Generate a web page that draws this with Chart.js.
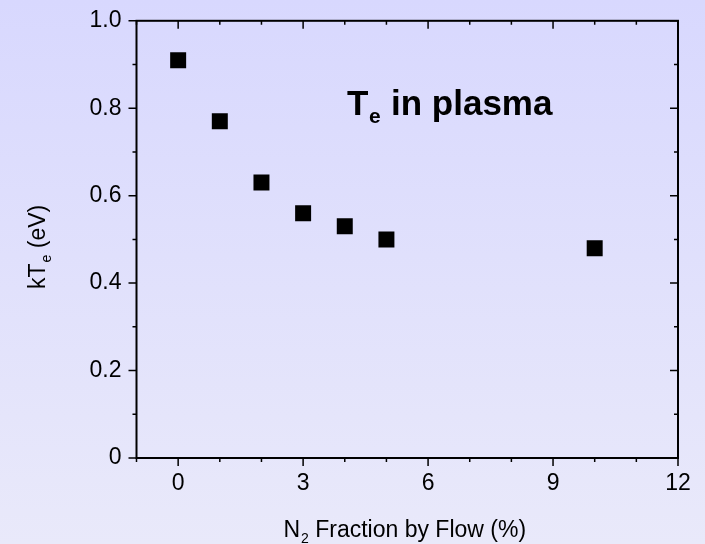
<!DOCTYPE html>
<html>
<head>
  <meta charset="UTF-8">
  <title>Te in plasma</title>
  <script src="https://cdn.jsdelivr.net/npm/chart.js@4.4.1/dist/chart.umd.min.js"></script>
  <style>
    html, body {
      margin: 0;
      padding: 0;
      width: 705px;
      height: 544px;
      overflow: hidden;
      background: linear-gradient(to bottom, #d8d8fe 0%, #e9e9fa 100%);
    }
    #wrap {
      width: 705px;
      height: 544px;
    }
  </style>
</head>
<body>
  <div id="wrap"><canvas id="myChart" width="705" height="544"></canvas></div>

  <script>
    // N2 fraction by flow (%) and electron temperature (eV)
    const n2Fraction = [0, 1, 2, 3, 4, 5, 10];
    const kTe = [0.91, 0.77, 0.63, 0.56, 0.53, 0.50, 0.48];

    const xMajorTicks = [0, 3, 6, 9, 12];
    const yMajorTicks = [0, 0.2, 0.4, 0.6, 0.8, 1.0];

    const FONT = "'Liberation Sans', Arial, sans-serif";

    // frame, inner/outer ticks and the text that needs subscripts
    const frameAndText = {
      id: 'frameAndText',
      afterDatasetsDraw(chart) {
        const {ctx, chartArea: a, scales: {x, y}} = chart;
        ctx.save();
        ctx.strokeStyle = '#000';
        ctx.lineWidth = 2;
        ctx.strokeRect(a.left, a.top, a.right - a.left, a.bottom - a.top);

        ctx.lineWidth = 1.5;
        ctx.beginPath();
        for (let v = x.min; v <= x.max; v++) {
          const px = x.getPixelForValue(v);
          const len = xMajorTicks.includes(v) ? 8 : 4;
          ctx.moveTo(px, a.bottom); ctx.lineTo(px, a.bottom + len);
          ctx.moveTo(px, a.top); ctx.lineTo(px, a.top + len);
        }
        for (let i = 0; i <= 10; i++) {
          const v = i / 10;
          const py = y.getPixelForValue(v);
          const len = i % 2 === 0 ? 8 : 4;
          ctx.moveTo(a.left, py); ctx.lineTo(a.left - len, py);
          ctx.moveTo(a.right, py); ctx.lineTo(a.right - len, py);
        }
        ctx.stroke();

        ctx.fillStyle = '#000';
        ctx.textBaseline = 'alphabetic';
        ctx.textAlign = 'left';

        // annotation "Te in plasma"
        ctx.font = 'bold 35px ' + FONT;
        ctx.fillText('T', 347, 115);
        ctx.font = 'bold 21px ' + FONT;
        ctx.fillText('e', 369, 123);
        ctx.font = 'bold 35px ' + FONT;
        ctx.fillText('in plasma', 391, 115);

        // x axis title
        const cx = (a.left + a.right) / 2 - 3;
        ctx.font = '23px ' + FONT;
        const wN = ctx.measureText('N').width;
        const wRest = ctx.measureText(' Fraction by Flow (%)').width;
        ctx.font = '14px ' + FONT;
        const w2 = ctx.measureText('2').width;
        let sx = cx - (wN + w2 + wRest) / 2;
        ctx.font = '23px ' + FONT;
        ctx.fillText('N', sx, 537);
        ctx.font = '14px ' + FONT;
        ctx.fillText('2', sx + wN + 1, 543);
        ctx.font = '23px ' + FONT;
        ctx.fillText(' Fraction by Flow (%)', sx + wN + w2 + 1, 537);

        // y axis title
        ctx.translate(45, (a.top + a.bottom) / 2 + 8);
        ctx.rotate(-Math.PI / 2);
        ctx.font = '23px ' + FONT;
        const wk = ctx.measureText('kT').width;
        const wev = ctx.measureText(' (eV)').width;
        ctx.font = '14px ' + FONT;
        const we = ctx.measureText('e').width;
        sx = -(wk + we + wev) / 2;
        ctx.font = '23px ' + FONT;
        ctx.fillText('kT', sx, 0);
        ctx.font = '14px ' + FONT;
        ctx.fillText('e', sx + wk + 1, 6);
        ctx.font = '23px ' + FONT;
        ctx.fillText(' (eV)', sx + wk + we + 1, 0);

        ctx.restore();
      }
    };

    const data = {
      datasets: [{
        label: 'kTe',
        data: n2Fraction.map((v, i) => ({x: v, y: kTe[i]})),
        showLine: false,
        pointStyle: 'rect',
        pointRadius: 11.3,
        pointHoverRadius: 11.3,
        pointBackgroundColor: '#000',
        pointBorderWidth: 0
      }]
    };

    const config = {
      type: 'scatter',
      data: data,
      plugins: [frameAndText],
      options: {
        responsive: false,
        animation: false,
        events: [],
        layout: {
          padding: {left: 0, right: 27, top: 18, bottom: 0}
        },
        plugins: {
          legend: {display: false},
          tooltip: {enabled: false}
        },
        scales: {
          x: {
            type: 'linear',
            min: -1,
            max: 12,
            afterBuildTicks: (scale) => {
              scale.ticks = xMajorTicks.map(v => ({value: v}));
            },
            afterFit: (scale) => { scale.height = 86; },
            grid: {display: true, drawOnChartArea: false, color: 'transparent', tickLength: 8},
            border: {display: false},
            ticks: {
              color: '#000',
              font: {family: FONT, size: 23},
              padding: 4,
              maxRotation: 0
            }
          },
          y: {
            type: 'linear',
            min: 0,
            max: 1,
            afterBuildTicks: (scale) => {
              scale.ticks = yMajorTicks.map(v => ({value: v}));
            },
            afterFit: (scale) => { scale.width = 136.5; },
            grid: {display: true, drawOnChartArea: false, color: 'transparent', tickLength: 8},
            border: {display: false},
            ticks: {
              color: '#000',
              font: {family: FONT, size: 23},
              padding: 7,
              callback: (v) => v === 0 ? '0' : v.toFixed(1)
            }
          }
        }
      }
    };

    new Chart(document.getElementById('myChart'), config);
  </script>
</body>
</html>
